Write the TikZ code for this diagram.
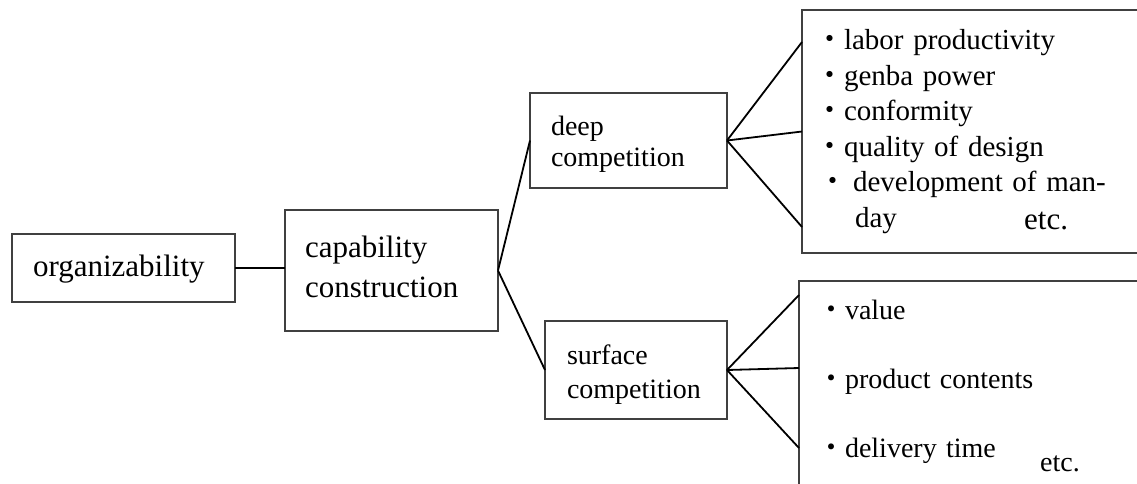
\documentclass[tikz,border=0pt]{standalone}
\usepackage{fontspec}
\setmainfont{Liberation Serif}
\newfontfamily\cjk{Noto Sans CJK JP}
\newcommand\dotj{{\cjk ・}}
\begin{document}
\begin{tikzpicture}[x=1pt,y=-1pt,
  box/.style={draw=black!75, line width=1.4pt, inner ysep=0pt, outer sep=0pt,
              align=left, anchor=north west},
  conn/.style={line width=1.8pt, black},
  etctext/.style={anchor=base west, inner sep=0pt}]
\fill[white] (0,0) rectangle (1137,483);
\clip (0,0) rectangle (1137,483);

\node[box, inner xsep=21pt, text width=181pt, minimum height=68pt,
      font={\fontsize{31}{40}\selectfont}] (org) at (12,234) {\rule{0pt}{23pt}organizability};
\node[box, inner xsep=20pt, text width=173pt, minimum height=121pt,
      font={\fontsize{31}{40}\selectfont}] (cap) at (285,210)
      {capability\\construction\rule[-8pt]{0pt}{8pt}};
\node[box, inner xsep=21pt, text width=155pt, minimum height=95pt,
      font={\fontsize{28}{31}\selectfont}] (deep) at (530,93)
      {\rule{0pt}{26pt}deep\\competition};
\node[box, inner xsep=22pt, text width=138pt, minimum height=98pt,
      font={\fontsize{28}{34}\selectfont}] (surf) at (545,321)
      {\rule{0pt}{28pt}surface\\competition};
\node[box, inner xsep=13pt, text width=374pt, minimum height=243pt,
      font={\fontsize{29}{35.6}\selectfont}] (rt) at (802,10)
      {\dotj labor productivity\\\dotj genba power\\\dotj conformity\\\dotj quality of design\\\hspace*{3pt}\dotj\hspace*{6pt}development of man-\\\hspace*{40pt}day};
\node[box, inner xsep=18pt, text width=364pt, minimum height=275pt,
      font={\fontsize{28}{69}\selectfont}] (rb) at (799,281)
      {\dotj value\\\dotj product contents\\\dotj delivery time\rule[-80pt]{0pt}{80pt}};
\node[etctext, font={\fontsize{31}{36}\selectfont}] (etcA) at (1024,229) {etc.};
\node[etctext, font={\fontsize{28}{34}\selectfont}] (etcB) at (1040,471) {etc.};

\draw[conn] (org.east) -- (org.east -| cap.west);
\draw[conn] (cap.east) -- (deep.west);
\draw[conn] (cap.east) -- (surf.west);
\draw[conn] (deep.east) -- ([yshift=-32pt]rt.north west);
\draw[conn] (deep.east) -- (rt.west);
\draw[conn] (deep.east) -- ([yshift=26pt]rt.south west);
\draw[conn] (surf.east) -- ([yshift=-14pt]rb.north west);
\draw[conn] (surf.east) -- ([yshift=-87pt]rb.north west);
\draw[conn] (surf.east) -- ([yshift=-167pt]rb.north west);
\end{tikzpicture}
\end{document}
